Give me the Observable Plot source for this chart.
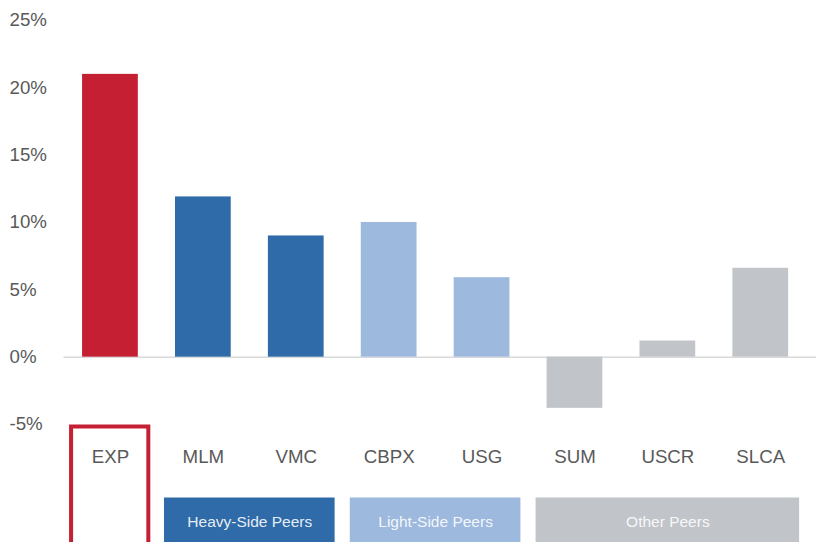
<!DOCTYPE html>
<html><head><meta charset="utf-8">
<script src="https://cdn.jsdelivr.net/npm/d3@7"></script>
<script src="https://cdn.jsdelivr.net/npm/@observablehq/plot@0.6"></script>
<style>html,body{margin:0;padding:0;background:#fff;overflow:hidden}</style>
</head><body><div id="chart"></div>
<script>
const categories = ["EXP","MLM","VMC","CBPX","USG","SUM","USCR","SLCA"];
const values = [21.0, 11.9, 9.0, 10.0, 5.9, -3.8, 1.2, 6.6];
const categoryGroup = ["Company","Heavy-Side Peers","Heavy-Side Peers","Light-Side Peers","Light-Side Peers","Other Peers","Other Peers","Other Peers"];
const groupNames = ["Heavy-Side Peers","Light-Side Peers","Other Peers"];
const highlighted = ["EXP"];
const yTicks = [-5, 0, 5, 10, 15, 20, 25];

const W = 816, H = 542, mL = 63.5, mR = 9.3, mT = 20, mB = 118;
const step = (W - mL - mR) / categories.length;

const bars = categories.map((c, i) => ({cat: c, value: values[i], group: categoryGroup[i]}));
const groups = groupNames.map(g => {
  const members = categories.filter((c, i) => categoryGroup[i] === g);
  return {name: g, first: members[0], last: members[members.length - 1], count: members.length};
});

const font = "'Liberation Sans', Arial, Helvetica, sans-serif";
const textColor = "#595959";

const chart = Plot.plot({
  width: W, height: H,
  marginLeft: mL, marginRight: mR, marginTop: mT, marginBottom: mB,
  style: {fontFamily: font, color: textColor, background: "#fff", overflow: "hidden"},
  x: {domain: categories, paddingInner: 0.4, paddingOuter: 0.2, round: false, axis: null},
  y: {domain: [-5, 25], axis: null},
  color: {domain: ["Company", ...groupNames], range: ["#C41F32", "#2E6BA8", "#9DB9DE", "#C1C4C9"]},
  marks: [
    Plot.ruleY([0], {stroke: "#d9d9d9", strokeWidth: 1.5, insetRight: -12}),
    Plot.barY(bars, {x: "cat", y: "value", fill: "group"}),
    Plot.barY(highlighted, {x: d => d, y1: -5, y2: -16, fill: "white", stroke: "#C41F32", strokeWidth: 4, insetLeft: -11, insetRight: -10.5, dy: 2.5}),
    Plot.ruleY(groups, {x1: "first", x2: "last", y: -5, dy: 97, stroke: "name", strokeWidth: 48, insetLeft: -11, insetRight: -11}),
    ...groups.map(g => Plot.text([g], {x: d => d.first, y: -5, text: "name", dx: (g.count - 1) * step / 2, dy: 97.5, fill: "white", fillOpacity: 0.9, fontSize: 15.5})),
    Plot.axisY({ticks: yTicks, tickFormat: d => d + "%", tickSize: 0, textAnchor: "start", dx: -45.5, fontSize: 18.7, label: null}),
    Plot.axisX({tickSize: 0, fontSize: 18.7, dy: 16, label: null})
  ]
});
document.getElementById("chart").appendChild(chart);
</script>
</body></html>
